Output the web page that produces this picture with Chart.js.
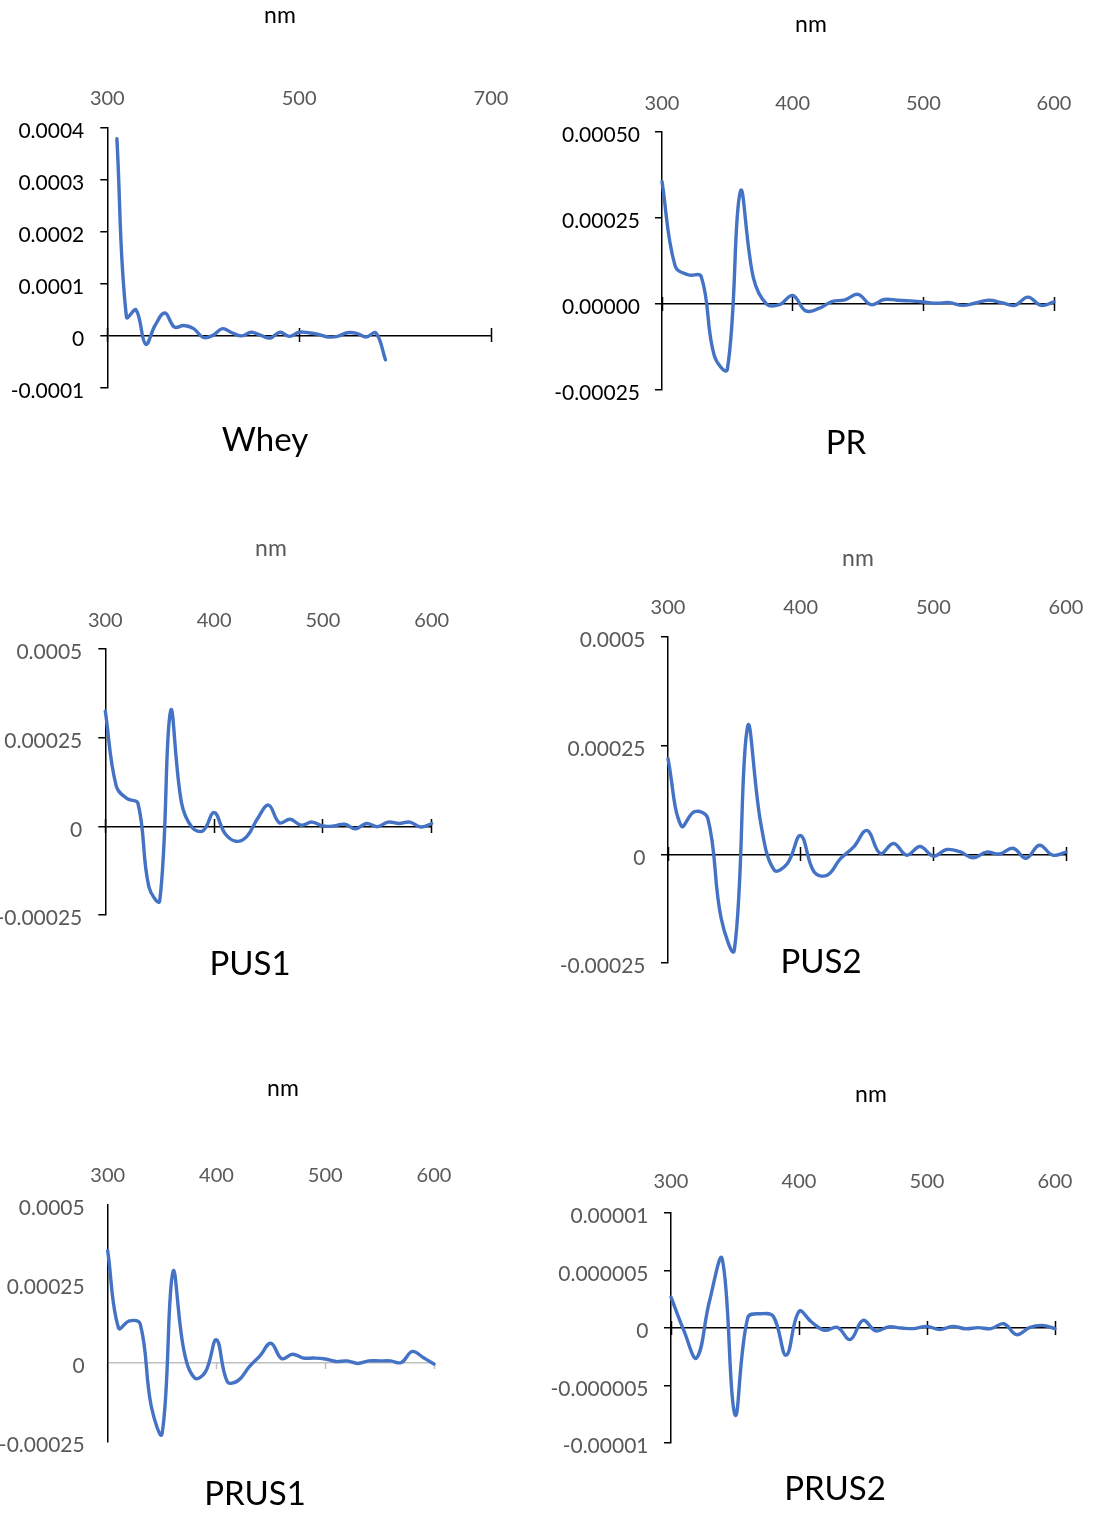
<!DOCTYPE html>
<html><head><meta charset="utf-8">
<script src="https://cdn.jsdelivr.net/npm/chart.js@4.4.1/dist/chart.umd.min.js"></script>
<style>
html,body{margin:0;padding:0;background:#fff;}
#wrap{position:relative;width:1094px;height:1521px;overflow:hidden;background:#fff;}
canvas{position:absolute;}
</style></head><body><div id="wrap"></div>
<script>
// ---------- DATA ----------
const wheyNm = [310,320,330,340,350,360,370,380,390,400,410,420,430,440,450,460,470,480,490,500,510,520,530,540,550,560,570,580,590];
const wheyVal = [3.79e-4,0.35e-4,0.49e-4,-0.17e-4,0.2e-4,0.43e-4,0.16e-4,0.19e-4,0.13e-4,-0.04e-4,0.0,0.13e-4,0.05e-4,-0.01e-4,0.06e-4,0.0,-0.05e-4,0.06e-4,-0.02e-4,0.06e-4,0.05e-4,0.02e-4,-0.03e-4,-0.02e-4,0.05e-4,0.04e-4,-0.03e-4,0.05e-4,-0.47e-4];

const stdNm = [300,310,320,330,340,350,360,370,380,390,400,410,420,430,440,450,460,470,480,490,500,510,520,530,540,550,560,570,580,590,600];
const prVal = [3.56e-4,1.11e-4,0.85e-4,0.80e-4,-1.5e-4,-1.9e-4,3.27e-4,0.75e-4,0.0,-0.02e-4,0.25e-4,-0.2e-4,-0.13e-4,0.07e-4,0.12e-4,0.28e-4,-0.02e-4,0.13e-4,0.11e-4,0.09e-4,0.06e-4,0.02e-4,0.04e-4,-0.04e-4,0.03e-4,0.11e-4,0.04e-4,-0.04e-4,0.20e-4,-0.04e-4,0.06e-4];
const pus1Val = [3.25e-4,1.14e-4,0.78e-4,0.65e-4,-1.7e-4,-2.1e-4,3.25e-4,0.67e-4,-0.04e-4,-0.12e-4,0.39e-4,-0.2e-4,-0.42e-4,-0.29e-4,0.22e-4,0.6e-4,0.1e-4,0.2e-4,0.03e-4,0.12e-4,0.01e-4,0.01e-4,0.06e-4,-0.07e-4,0.08e-4,-0.01e-4,0.12e-4,0.08e-4,0.12e-4,-0.02e-4,0.08e-4];
const pus2Val = [2.2e-4,0.65e-4,0.98e-4,0.83e-4,-1.46e-4,-2.2e-4,2.94e-4,0.7e-4,-0.36e-4,-0.21e-4,0.43e-4,-0.4e-4,-0.48e-4,-0.1e-4,0.17e-4,0.55e-4,0.02e-4,0.25e-4,-0.02e-4,0.18e-4,-0.04e-4,0.11e-4,0.06e-4,-0.08e-4,0.05e-4,0.01e-4,0.14e-4,-0.09e-4,0.21e-4,-0.02e-4,0.05e-4];
const prus1Val = [3.55e-4,1.1e-4,1.33e-4,1.22e-4,-1.37e-4,-2.25e-4,2.88e-4,0.4e-4,-0.48e-4,-0.28e-4,0.73e-4,-0.6e-4,-0.56e-4,-0.13e-4,0.22e-4,0.62e-4,0.13e-4,0.27e-4,0.15e-4,0.15e-4,0.12e-4,0.04e-4,0.06e-4,-0.02e-4,0.06e-4,0.06e-4,0.06e-4,0.01e-4,0.36e-4,0.17e-4,-0.04e-4];
const prus2Val = [2.68e-6,-0.2e-6,-2.6e-6,2.3e-6,6.0e-6,-7.55e-6,0.9e-6,1.24e-6,1.0e-6,-2.36e-6,1.44e-6,0.5e-6,-0.2e-6,0.05e-6,-1.0e-6,0.66e-6,-0.25e-6,0.1e-6,0.0,-0.05e-6,0.14e-6,-0.14e-6,0.14e-6,-0.06e-6,0.03e-6,-0.05e-6,0.37e-6,-0.58e-6,0.03e-6,0.23e-6,-0.06e-6];

const xTicksWhey = [300,500,700];
const xTicksStd = [300,400,500,600];

const yTicksWhey = [-0.0001,0,0.0001,0.0002,0.0003,0.0004];
const yLabelsWhey = ['-0.0001','0','0.0001','0.0002','0.0003','0.0004'];
const yTicksStd = [-0.00025,0,0.00025,0.0005];
const yLabelsPR = ['-0.00025','0.00000','0.00025','0.00050'];
const yLabelsStd = ['-0.00025','0','0.00025','0.0005'];
const yTicksPRUS2 = [-0.00001,-0.000005,0,0.000005,0.00001];
const yLabelsPRUS2 = ['-0.00001','-0.000005','0','0.000005','0.00001'];

const titles = ['Whey','PR','PUS1','PUS2','PRUS1','PRUS2'];
const xTitle = 'nm';

// ---------- LAYOUT / STYLE ----------
const CELL_W = 547, CELL_H = 507, MARGIN = 110;
const FONT = 'Lato';
const GRAY = '#595959';
const LINE = '#4472C4';

const charts = [
  {title:titles[0], col:0,row:0, nm:wheyNm, val:wheyVal, xTicks:xTicksWhey, xMin:300,xMax:700,
   yTicks:yTicksWhey, yLabels:yLabelsWhey, yMin:-0.0001, yMax:0.0004,
   L:107.3,R:491,T:127.7,B:387.3, xLabelY:99, yPad:16, yTickMarks:true, cross:true,
   yColor:'#000', nmColor:'#000', nmPos:[280,16], titlePos:[265,440]},
  {title:titles[1], col:1,row:0, nm:stdNm, val:prVal, xTicks:xTicksStd, xMin:300,xMax:600,
   yTicks:yTicksStd, yLabels:yLabelsPR, yMin:-0.00025, yMax:0.0005,
   L:662,R:1054,T:132,B:390, xLabelY:103.5, yPad:15, yTickMarks:true, cross:true,
   yColor:'#000', nmColor:'#000', nmPos:[811,25], titlePos:[846,443]},
  {title:titles[2], col:0,row:1, nm:stdNm, val:pus1Val, xTicks:xTicksStd, xMin:300,xMax:600,
   yTicks:yTicksStd, yLabels:yLabelsStd, yMin:-0.00025, yMax:0.0005,
   L:105.3,R:431.7,T:649,B:915, xLabelY:621, yPad:16, yTickMarks:true, cross:true,
   yColor:GRAY, nmColor:GRAY, nmPos:[271,549], titlePos:[250,964]},
  {title:titles[3], col:1,row:1, nm:stdNm, val:pus2Val, xTicks:xTicksStd, xMin:300,xMax:600,
   yTicks:yTicksStd, yLabels:yLabelsStd, yMin:-0.00025, yMax:0.0005,
   L:668,R:1066,T:637,B:963, xLabelY:608, yPad:15.5, yTickMarks:true, cross:true,
   yColor:GRAY, nmColor:GRAY, nmPos:[858,559], titlePos:[821,962]},
  {title:titles[4], col:0,row:2, nm:stdNm, val:prus1Val, xTicks:xTicksStd, xMin:300,xMax:600,
   yTicks:yTicksStd, yLabels:yLabelsStd, yMin:-0.00025, yMax:0.0005,
   L:107.7,R:434,T:1205,B:1441.7, xLabelY:1176, yPad:23, yTickMarks:false, cross:false,
   yColor:GRAY, nmColor:'#000', nmPos:[283,1089], titlePos:[255,1494]},
  {title:titles[5], col:1,row:2, nm:stdNm, val:prus2Val, xTicks:xTicksStd, xMin:300,xMax:600,
   yTicks:yTicksPRUS2, yLabels:yLabelsPRUS2, yMin:-0.00001, yMax:0.00001,
   L:671,R:1055,T:1213,B:1443, xLabelY:1181.5, yPad:15.5, yTickMarks:true, cross:true,
   yColor:GRAY, nmColor:'#000', nmPos:[871,1095], titlePos:[835,1489]}
];

const freeText = {
  id:'freeText',
  afterDraw(chart, args, opts){
    const c = chart.ctx;
    (opts.items||[]).forEach(it=>{
      c.save();
      c.font = it.size + 'px ' + FONT;
      c.fillStyle = it.color;
      c.textAlign = 'center';
      c.textBaseline = 'middle';
      c.fillText(it.text, it.x, it.y);
      c.restore();
    });
  }
};

const wrap = document.getElementById('wrap');

function build(cfg){
  const cv = document.createElement('canvas');
  const ox = cfg.col*CELL_W - MARGIN, oy = cfg.row*CELL_H;
  const CW = CELL_W + 2*MARGIN, CH = CELL_H;
  cv.width = CW; cv.height = CH;
  cv.style.left = ox+'px'; cv.style.top = oy+'px';
  cv.style.width = CW+'px'; cv.style.height = CH+'px';
  wrap.appendChild(cv);
  const L = cfg.L-ox, R = cfg.R-ox, T = cfg.T-oy, B = cfg.B-oy;
  const yW = 140, xH = 60, fs = 20, yfs = 21, lh = 1.2;
  const xPad = T - (cfg.xLabelY-oy) - fs*lh/2;
  const crossHalf = 7;
  const dyVal = crossHalf*(cfg.yMax-cfg.yMin)/(B-T);
  const zeroColor = cfg.cross ? '#000' : '#BFBFBF';
  const xTickMarkColor = cfg.cross ? '#000' : '#BFBFBF';
  const setX = s=>{ s.ticks = cfg.xTicks.map(v=>({value:v})); };
  new Chart(cv, {
    type:'line',
    data:{datasets:[{
      data: cfg.nm.map((x,i)=>({x:x, y:cfg.val[i]})),
      xAxisID:'x', yAxisID:'y',
      borderColor:LINE, borderWidth:3.4, pointRadius:0, pointHoverRadius:0,
      tension:0.4, fill:false, clip:false, borderCapStyle:'round', borderJoinStyle:'round'
    }]},
    options:{
      responsive:false, animation:false, devicePixelRatio:1,
      events:[],
      layout:{padding:{left:L-yW, right:CW-R, top:T-xH, bottom:CH-B}},
      plugins:{
        legend:{display:false}, tooltip:{enabled:false},
        freeText:{items:[
          {text:xTitle, x:cfg.nmPos[0]-ox, y:cfg.nmPos[1]-oy, size:23, color:cfg.nmColor},
          {text:cfg.title, x:cfg.titlePos[0]-ox, y:cfg.titlePos[1]-oy, size:33, color:'#000'}
        ]}
      },
      scales:{
        x:{type:'linear', axis:'x', position:'top', min:cfg.xMin, max:cfg.xMax,
           afterBuildTicks:setX, afterFit:s=>{s.height=xH;},
           border:{display:false}, grid:{display:false, drawTicks:false},
           ticks:{color:GRAY, font:{family:FONT,size:fs,lineHeight:lh}, padding:xPad,
                  maxRotation:0, minRotation:0, autoSkip:false, callback:v=>String(v)}},
        xz:{type:'linear', axis:'x', position:{y: cfg.cross ? dyVal : 0}, min:cfg.xMin, max:cfg.xMax,
           afterBuildTicks:setX,
           ticks:{display:false}, border:{display:false},
           grid:{display:true, drawOnChartArea:false, drawTicks:true,
                 tickLength: cfg.cross ? 2*crossHalf : 6, tickColor:xTickMarkColor, tickWidth:1.5, color:xTickMarkColor}},
        y:{type:'linear', axis:'y', position:'left', min:cfg.yMin, max:cfg.yMax,
           afterBuildTicks:s=>{ s.ticks = cfg.yTicks.map(v=>({value:v})); },
           afterFit:s=>{s.width=yW;},
           border:{display:true, color:'#000', width:1.5},
           grid:{display:true, drawOnChartArea:true, lineWidth:1.5,
                 color:c=> (c.tick && c.tick.value===0) ? zeroColor : 'rgba(0,0,0,0)',
                 drawTicks:cfg.yTickMarks, tickLength:7, tickColor:'#000', tickWidth:1.5},
           ticks:{color:cfg.yColor, font:{family:FONT,size:yfs,lineHeight:lh}, padding:cfg.yPad,
                  labelOffset:3.5, autoSkip:false, callback:(v,i)=>cfg.yLabels[i]}}
      }
    },
    plugins:[freeText]
  });
}

charts.forEach(build);
</script>
</body></html>
